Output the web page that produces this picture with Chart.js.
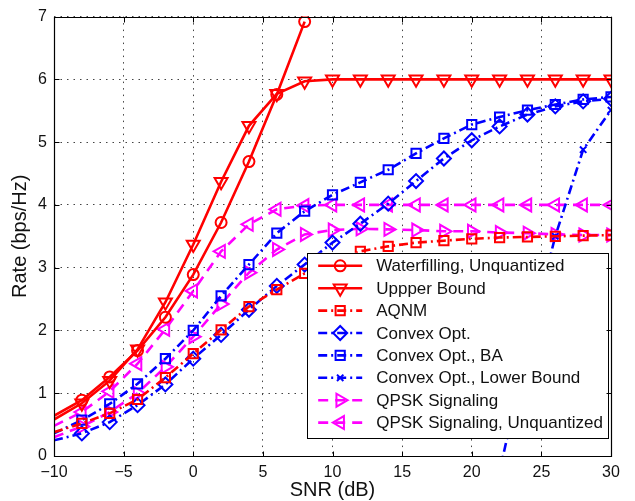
<!DOCTYPE html>
<html>
<head>
<meta charset="utf-8">
<script src="https://cdn.jsdelivr.net/npm/chart.js@4/dist/chart.umd.min.js"></script>
<style>
  html, body { margin: 0; padding: 0; background: #ffffff; }
  #wrap { width: 635px; height: 501px; }
</style>
</head>
<body>
<div id="wrap"><canvas id="c" width="635" height="501"></canvas></div>
<script>
// SNR grid (dB)
const snr = [-10, -8, -6, -4, -2, 0, 2, 4, 6, 8, 10, 12, 14, 16, 18, 20, 22, 24, 26, 28, 30];

// Achievable rates (bps/Hz)
const waterfilling = [0.64, 0.89, 1.26, 1.68, 2.21, 2.89, 3.72, 4.69, 5.76, 6.92, null, null, null, null, null, null, null, null, null, null, null];
const upperBound   = [0.58, 0.84, 1.20, 1.70, 2.45, 3.37, 4.37, 5.26, 5.77, 5.97, 6.00, 6.00, 6.00, 6.00, 6.00, 6.00, 6.00, 6.00, 6.00, 6.00, 6.00];
const aqnm         = [0.38, 0.52, 0.68, 0.90, 1.25, 1.63, 2.01, 2.38, 2.65, 2.91, 3.10, 3.26, 3.34, 3.40, 3.43, 3.46, 3.48, 3.49, 3.50, 3.51, 3.52];
const convexOpt    = [0.25, 0.36, 0.54, 0.81, 1.14, 1.55, 1.93, 2.33, 2.71, 3.05, 3.40, 3.70, 4.02, 4.38, 4.74, 5.03, 5.25, 5.44, 5.57, 5.65, 5.69];
const convexOptBA  = [0.36, 0.57, 0.83, 1.15, 1.55, 2.00, 2.55, 3.05, 3.55, 3.90, 4.16, 4.36, 4.56, 4.82, 5.06, 5.28, 5.40, 5.51, 5.60, 5.68, 5.72];
const convexLower  = [null, null, null, null, null, null, null, null, null, null, null, null, null, null, null, -2.30, -0.25, 1.75, 3.50, 4.88, 5.51];
const qpsk         = [0.30, 0.47, 0.70, 1.00, 1.42, 1.90, 2.42, 2.92, 3.29, 3.53, 3.60, 3.62, 3.61, 3.60, 3.58, 3.58, 3.56, 3.55, 3.53, 3.52, 3.52];
const qpskUnq      = [0.48, 0.70, 1.03, 1.47, 2.02, 2.63, 3.26, 3.69, 3.93, 3.99, 4.00, 4.00, 4.00, 4.00, 4.00, 4.00, 4.00, 4.00, 4.00, 4.00, 4.00];

// Axis ticks
const xTicks = [-10, -5, 0, 5, 10, 15, 20, 25, 30];
const yTicks = [0, 1, 2, 3, 4, 5, 6, 7];

const FONT = "'Liberation Sans', Arial, Helvetica, sans-serif";
const RED = '#ff0000', BLUE = '#0000ff', MAGENTA = '#ff00ff';
const DASHDOT = [9, 4, 2, 4];
const DASHED = [10, 7];

function pts(values) {
  return snr.map((x, i) => ({ x: x, y: values[i] }));
}

function series(label, values, color, dash, style, rotation, radius) {
  return {
    label: label,
    data: pts(values),
    borderColor: color,
    backgroundColor: 'rgba(0,0,0,0)',
    borderWidth: 2.6,
    borderDash: dash,
    pointStyle: style,
    rotation: rotation,
    pointRadius: ctx => (ctx.dataIndex === 0 ? 0 : radius),
    pointHoverRadius: radius,
    pointBorderWidth: 2,
    pointBorderColor: color,
    pointBackgroundColor: 'rgba(0,0,0,0)',
    tension: 0,
    spanGaps: false
  };
}

const datasets = [
  series('Waterfilling, Unquantized', waterfilling, RED, [], 'circle', 0, 5.5),
  series('Uppper Bound', upperBound, RED, [], 'triangle', 180, 7.5),
  series('AQNM', aqnm, RED, DASHDOT, 'rect', 0, 6.5),
  series('Convex Opt.', convexOpt, BLUE, DASHDOT, 'rectRot', 0, 7),
  series('Convex Opt., BA', convexOptBA, BLUE, DASHDOT, 'rect', 0, 6.5),
  series('Convex Opt., Lower Bound', convexLower, BLUE, DASHDOT, 'crossRot', 0, 4.5),
  series('QPSK Signaling', qpsk, MAGENTA, DASHED, 'triangle', 90, 7.5),
  series('QPSK Signaling, Unquantized', qpskUnq, MAGENTA, DASHED, 'triangle', -90, 7.5)
];

// Legend box drawn inside the plot area, lower-right corner
const boxedLegend = {
  id: 'boxedLegend',
  afterDatasetsDraw(chart) {
    const ctx = chart.ctx;
    const area = chart.chartArea;
    const rowH = 22.4;
    const sets = chart.data.datasets;
    ctx.save();
    ctx.font = '17px ' + FONT;
    let maxW = 0;
    sets.forEach(d => { maxW = Math.max(maxW, ctx.measureText(d.label).width); });
    const w = 69 + maxW + 5;
    const h = sets.length * rowH + 6;
    const x0 = area.right - 3 - w;
    const y0 = area.bottom - 18 - h;
    ctx.fillStyle = '#ffffff';
    ctx.fillRect(x0, y0, w, h);
    ctx.lineWidth = 1;
    ctx.strokeStyle = '#000000';
    ctx.strokeRect(Math.round(x0) + 0.5, Math.round(y0) + 0.5, Math.round(w), Math.round(h));
    sets.forEach((d, i) => {
      const cy = y0 + 13 + i * rowH;
      ctx.save();
      ctx.strokeStyle = d.borderColor;
      ctx.lineWidth = d.borderWidth;
      ctx.setLineDash(d.borderDash || []);
      ctx.beginPath();
      ctx.moveTo(x0 + 11, cy);
      ctx.lineTo(x0 + 55, cy);
      ctx.stroke();
      ctx.setLineDash([]);
      ctx.fillStyle = 'rgba(0,0,0,0)';
      ctx.lineWidth = d.pointBorderWidth;
      Chart.helpers.drawPoint(ctx, {
        pointStyle: d.pointStyle,
        rotation: d.rotation,
        radius: d.pointHoverRadius,
        borderWidth: d.pointBorderWidth
      }, x0 + 33, cy);
      ctx.restore();
      ctx.fillStyle = '#111111';
      ctx.textBaseline = 'middle';
      ctx.textAlign = 'left';
      ctx.fillText(d.label, x0 + 69, cy + 1);
    });
    ctx.restore();
  },
  afterDraw(chart) {
    // Box around the axes with inward tick marks on all four sides
    const ctx = chart.ctx;
    const a = chart.chartArea;
    const xs = chart.scales.x, ys = chart.scales.y;
    const L = Math.round(a.left) + 0.5, R = Math.round(a.right) + 0.5;
    const T = Math.round(a.top) + 0.5, B = Math.round(a.bottom) + 0.5;
    ctx.save();
    ctx.strokeStyle = '#000000';
    ctx.lineWidth = 1.2;
    ctx.beginPath();
    ctx.rect(L, T, R - L, B - T);
    ctx.stroke();
    ctx.beginPath();
    const tl = 5;
    xTicks.forEach(v => {
      const px = Math.round(xs.getPixelForValue(v)) + 0.5;
      ctx.moveTo(px, B); ctx.lineTo(px, B - tl);
      ctx.moveTo(px, T); ctx.lineTo(px, T + tl);
    });
    yTicks.forEach(v => {
      const py = Math.round(ys.getPixelForValue(v)) + 0.5;
      ctx.moveTo(L, py); ctx.lineTo(L + tl, py);
      ctx.moveTo(R, py); ctx.lineTo(R - tl, py);
    });
    ctx.lineWidth = 1;
    ctx.stroke();
    ctx.restore();
  }
};

new Chart(document.getElementById('c'), {
  type: 'line',
  data: { datasets: datasets },
  plugins: [boxedLegend],
  options: {
    responsive: false,
    animation: false,
    devicePixelRatio: 1,
    layout: { padding: { top: 14, right: 24, bottom: 0, left: 0 } },
    plugins: {
      legend: { display: false },
      tooltip: { enabled: false }
    },
    scales: {
      x: {
        type: 'linear',
        min: -10, max: 30,
        afterBuildTicks: s => { s.ticks = xTicks.map(v => ({ value: v })); },
        afterFit: s => { s.height = 45; },
        ticks: {
          font: { family: FONT, size: 16 },
          color: '#111111',
          padding: 7,
          maxRotation: 0,
          callback: v => String(v).replace('-', '\u2212')
        },
        grid: { color: '#444444', lineWidth: 1, drawTicks: false },
        border: { display: false, dash: [1.5, 5] },
        title: {
          display: true, text: 'SNR (dB)',
          font: { family: FONT, size: 20 }, color: '#111111',
          padding: { top: 0, bottom: -1 }
        }
      },
      y: {
        type: 'linear',
        min: 0, max: 7,
        afterBuildTicks: s => { s.ticks = yTicks.map(v => ({ value: v })); },
        afterFit: s => { s.width = 54; },
        ticks: {
          font: { family: FONT, size: 16 },
          color: '#111111',
          padding: 7
        },
        grid: { color: '#444444', lineWidth: 1, drawTicks: false },
        border: { display: false, dash: [1.5, 5] },
        title: {
          display: true, text: 'Rate (bps/Hz)',
          font: { family: FONT, size: 20 }, color: '#111111',
          padding: { top: 8, bottom: 0 }
        }
      }
    }
  }
});
</script>
</body>
</html>
